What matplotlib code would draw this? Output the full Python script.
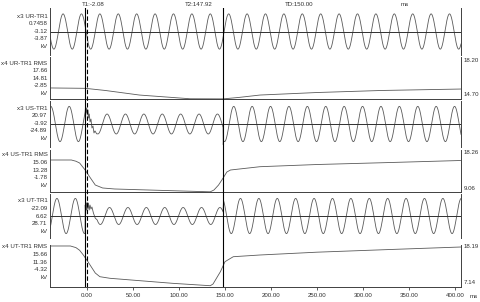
import numpy as np
import matplotlib
matplotlib.use("Agg")
import matplotlib.pyplot as plt

W, H = 481, 302
F_HZ = 50.0
T1, T2 = -2.08, 147.92
X_MIN, X_MAX = -40.2, 406.5

# phase voltages: (start ms, end ms, crest kV, time of a crest ms)
ur_segments = [(-40.2, 406.5, 22.5, -6.0)]
us_segments = [(-40.2, -2.08, 23.0, 0.67), (11.8, 147.92, 13.0, 1.8), (148.6, 406.5, 23.0, -0.5)]
ut_segments = [(-40.2, -2.08, 24.0, -12.67), (11.0, 147.92, 11.6, 4.5), (148.4, 406.5, 24.0, -13.2)]

# transients (ms, kV)
us_burst_t = [-2.0, -1.6, -1.1, -0.3, 0.3, 1.1, 1.8, 2.5, 3.3, 4.3, 5.4, 6.5, 7.6, 8.7, 10.5]
us_burst_v = [15.6, 22.0, 14.3, 20.9, 11.7, 18.3, 7.8, 13.0, 2.6, 6.5, -5.2, -2.6, -11.7, -9.0, -12.8]
us_clear_t = [148.1, 148.4]
us_clear_v = [-27.0, -21.0]
ut_burst_t = [-1.9, -1.5, -1.0, -0.5, 0.2, 0.9, 1.6, 2.4, 3.3, 4.3, 5.4, 7.0, 9.0]
ut_burst_v = [15.0, 1.4, 17.7, 8.2, 19.0, 9.5, 17.7, 8.2, 15.0, 9.5, 12.3, 4.0, -3.0]

# RMS traces (ms, kV)
ur_rms_t = [-40, -2, 20, 57, 112, 148, 165, 188, 250, 320, 406]
ur_rms_v = [15.62, 15.59, 15.41, 15.03, 14.72, 14.71, 14.83, 15.03, 15.24, 15.41, 15.53]
us_rms_t = [-40, -17, -12, -8, -2, 3, 9, 17, 30, 93, 134, 138, 143, 148, 152, 156, 188, 250, 330, 406]
us_rms_v = [16.07, 16.07, 15.8, 15.41, 13.88, 12.35, 10.59, 9.94, 9.72, 9.34, 9.10, 9.50,
            10.59, 12.13, 13.44, 13.88, 14.60, 15.08, 15.52, 15.96]
ut_rms_t = [-40, -18, -12, -8, -4, 1, 9, 14, 25, 93, 134, 137, 145, 150, 159, 188, 250, 330, 406]
ut_rms_v = [17.93, 17.93, 17.5, 16.8, 15.56, 13.80, 10.82, 9.85, 9.43, 8.11, 7.48, 7.93,
            11.17, 13.80, 15.11, 15.56, 16.3, 17.01, 17.66]

# channel captions and cursor readouts
ur_labels = ["x3 UR-TR1", "0.7458", "-3.12", "-3.87", "kV"]
ur_rms_labels = ["x4 UR-TR1 RMS", "17.66", "14.81", "-2.85", "kV"]
us_labels = ["x3 US-TR1", "20.97", "-3.92", "-24.89", "kV"]
us_rms_labels = ["x4 US-TR1 RMS", "15.06", "13.28", "-1.78", "kV"]
ut_labels = ["x3 UT-TR1", "-22.09", "6.62", "28.71", "kV"]
ut_rms_labels = ["x4 UT-TR1 RMS", "15.66", "11.36", "-4.32", "kV"]
ur_rms_range = ("18.20", "14.70")
us_rms_range = ("18.26", "9.06")
ut_rms_range = ("18.19", "7.14")
x_ticks = [0, 50, 100, 150, 200, 250, 300, 350, 400]

plt.rcParams["font.family"] = ["Liberation Sans", "DejaVu Sans"]
FS = 4.4
TXT = "#303030"
TRACE = "#5a5a5a"


def build_wave(segments, extra=()):
    ts, vs = [], []
    for t0, t1, amp, crest in segments:
        t = np.linspace(t0, t1, int((t1 - t0) * 6) + 2)
        ts.append(t)
        vs.append(amp * np.cos(2 * np.pi * F_HZ * (t - crest) / 1000.0))
    for et, ev in extra:
        ts.append(np.asarray(et, float))
        vs.append(np.asarray(ev, float))
    t = np.concatenate(ts)
    v = np.concatenate(vs)
    order = np.argsort(t, kind="stable")
    return t[order], v[order]


def rect(top, bottom):
    return [50 / W, 1 - bottom / H, 411 / W, (bottom - top) / H]


def px(x, y):
    return x / W, 1 - y / H


fig = plt.figure(figsize=(W / 100, H / 100), dpi=100)

panels = [(8, 55), (57, 99), (101, 147), (150, 192), (194, 238), (245, 287)]
axes = [fig.add_axes(rect(*p)) for p in panels]

waves = [
    build_wave(ur_segments),
    build_wave(us_segments, [(us_burst_t, us_burst_v), (us_clear_t, us_clear_v)]),
    build_wave(ut_segments, [(ut_burst_t, ut_burst_v)]),
]
rms = [(ur_rms_t, ur_rms_v, ur_rms_range), (us_rms_t, us_rms_v, us_rms_range),
       (ut_rms_t, ut_rms_v, ut_rms_range)]

for i, ax in enumerate(axes):
    ax.set_xlim(X_MIN, X_MAX)
    ax.set_facecolor("none")
    for s in ax.spines.values():
        s.set_color("#404040")
        s.set_linewidth(0.7)
    ax.spines["top"].set_visible(False)
    ax.set_yticks([])
    if i % 2 == 0:
        t, v = waves[i // 2]
        ax.plot(t, v, color=TRACE, lw=0.6)
        ax.axhline(0, color="#303030", lw=0.7)
        ax.set_ylim(-30, 30)
        ax.spines["bottom"].set_visible(False)
    else:
        t, v, (hi, lo) = rms[i // 2]
        ax.plot(t, v, color=TRACE, lw=0.6)
        ax.set_ylim(float(lo), float(hi))
    if i < 5:
        ax.set_xticks([])
    else:
        ax.set_xticks(x_ticks)
        ax.set_xticklabels([f"{x:.2f}" for x in x_ticks], fontsize=FS, color=TXT)
        ax.tick_params(axis="x", length=2.5, width=0.6, pad=1.8, color="#404040")

# cursors across all panels
ov = fig.add_axes(rect(8, 287))
ov.set_xlim(X_MIN, X_MAX)
ov.axis("off")
ov.axvline(T1, color="black", lw=0.8)
ov.axvline(T2, color="black", lw=0.8)
ov.axvline(0, color="black", lw=0.8, dashes=(4, 2))

# left captions
label_sets = [ur_labels, ur_rms_labels, us_labels, us_rms_labels, ut_labels, ut_rms_labels]
first_y = [16, 63, 108, 155, 201, 247]
for lines, y0 in zip(label_sets, first_y):
    for k, s in enumerate(lines):
        fig.text(*px(47.5, y0 + k * 7.6), s, ha="right", va="center", fontsize=FS, color=TXT)

# right scale limits of the RMS panels
right_y = [(60, 95), (153, 189), (246, 283)]
for (_, _, (hi, lo)), (yh, yl) in zip(rms, right_y):
    fig.text(*px(463.5, yh), hi, ha="left", va="center", fontsize=FS, color=TXT)
    fig.text(*px(463.5, yl), lo, ha="left", va="center", fontsize=FS, color=TXT)

fig.text(*px(82, 5), f"T1:{T1:.2f}", ha="left", va="center", fontsize=FS, color=TXT)
fig.text(*px(185, 5), f"T2:{T2:.2f}", ha="left", va="center", fontsize=FS, color=TXT)
fig.text(*px(285, 5), f"TD:{T2 - T1:.2f}", ha="left", va="center", fontsize=FS, color=TXT)
fig.text(*px(401, 5), "ms", ha="left", va="center", fontsize=FS, color=TXT)
fig.text(*px(470, 296), "ms", ha="left", va="center", fontsize=FS, color=TXT)

fig.savefig("out.png", dpi=100)
